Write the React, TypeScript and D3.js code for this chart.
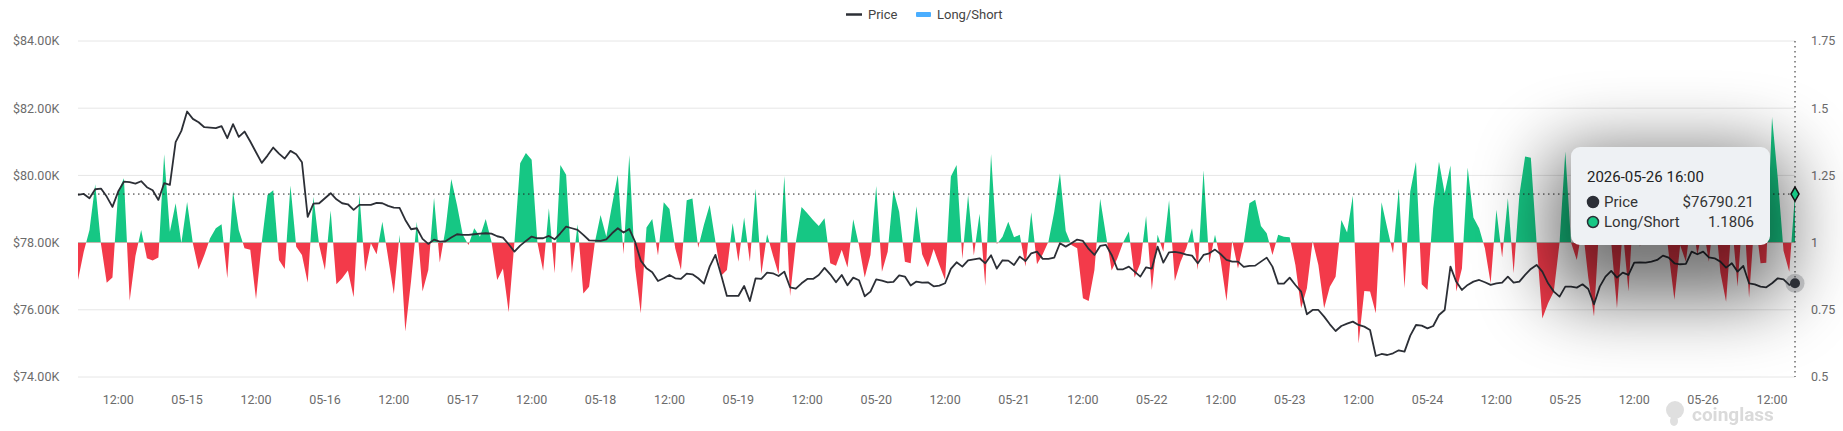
import { useEffect, useRef } from 'react'
import * as d3 from 'd3'

// hourly samples starting 2026-05-14 05:00
const startTime = new Date(2026, 4, 14, 5, 0, 0)

const price = [
  79419, 79449, 79320, 79588, 79608, 79370, 79062, 79519, 79816, 79797,
  79757, 79826, 79648, 79558, 79270, 79767, 79717, 80988, 81325, 81901,
  81683, 81583, 81434, 81424, 81405, 81464, 81107, 81524, 81147, 81305,
  81008, 80690, 80372, 80590, 80829, 80650, 80501, 80730, 80630, 80392,
  78764, 79161, 79171, 79320, 79469, 79290, 79171, 79141, 78973, 79122,
  79122, 79122, 79181, 79171, 79092, 79042, 79032, 78675, 78397, 78427,
  78109, 77960, 78089, 78030, 78040, 78149, 78248, 78228, 78228, 78248,
  78268, 78278, 78268, 78189, 78149, 77950, 77732, 77911, 78050, 78179,
  78129, 78129, 78199, 78099, 78278, 78476, 78427, 78377, 78228, 78069,
  78060, 78050, 78099, 78278, 78427, 78298, 78407, 78030, 77464, 77236,
  77117, 76858, 76938, 77037, 76938, 76918, 77077, 77057, 76938, 76779,
  77285, 77633, 77037, 76412, 76412, 76412, 76710, 76263, 76938, 76918,
  77107, 77087, 77007, 77136, 76670, 76630, 76789, 76918, 76918, 77037,
  77246, 77057, 76819, 77037, 76729, 76958, 76878, 76402, 76541, 76908,
  76868, 76819, 76829, 77027, 76988, 76720, 76839, 76809, 76819, 76700,
  76720, 76789, 77216, 77414, 77285, 77474, 77504, 77533, 77385, 77623,
  77226, 77474, 77464, 77335, 77583, 77454, 77682, 77732, 77514, 77514,
  77553, 77980, 77881, 77980, 78089, 78050, 77811, 77633, 77901, 77931,
  77633, 77206, 77206, 77285, 77136, 76988, 77265, 77226, 77881, 77404,
  77712, 77722, 77692, 77643, 77613, 77385, 77633, 77682, 77792, 77653,
  77484, 77434, 77434, 77275, 77305, 77315, 77434, 77553, 77285, 76779,
  76779, 76958, 76739, 76541, 75866, 75995, 75995, 75796, 75568, 75370,
  75519, 75588, 75648, 75548, 75499, 75400, 74625, 74685, 74655, 74705,
  74794, 74754, 75231, 75548, 75529, 75449, 75519, 75846, 75995, 77285,
  76839, 76591, 76740, 76839, 76888, 76819, 76740, 76789, 76809, 76988,
  76809, 76839, 77037, 77216, 77335, 77136, 76789, 76541, 76392, 76690,
  76690, 76660, 76759, 76620, 76164, 76690, 76988, 77156, 76958, 77107,
  77037, 77404, 77414, 77404, 77434, 77484, 77613, 77553, 77385, 77355,
  77365, 77732, 77653, 77732, 77563, 77533, 77434, 77256, 77385, 77136,
  77305, 76789, 76759, 76690, 76670, 76789, 76938, 76908, 76739, 76790.21,
]

const longShort = [
  0.861, 0.966, 1.047, 1.217, 0.995, 0.851, 0.870, 1.19, 1.239, 0.784,
  0.95, 1.047, 0.942, 0.933, 0.945, 1.329, 1.04, 1.146, 0.998, 1.151,
  0.998, 0.90, 0.954, 1.016, 1.053, 1.068, 0.867, 1.191, 1.047, 0.979,
  0.973, 0.789, 1.0, 1.177, 1.195, 0.935, 0.902, 1.212, 0.985, 0.954,
  0.851, 1.171, 0.99, 0.898, 1.119, 0.845, 0.867, 0.896, 0.797, 1.181,
  0.892, 0.998, 0.957, 1.078, 0.945, 0.809, 1.029, 0.669, 0.857, 1.078,
  0.818, 0.898, 1.167, 0.926, 1.05, 1.237, 1.14, 1.029, 0.991, 1.053,
  1.022, 1.088, 1.004, 0.861, 0.904, 0.741, 1.0, 1.295, 1.333, 1.308,
  1.0, 0.895, 1.128, 0.886, 1.289, 1.252, 0.886, 1.068, 0.811, 0.836,
  1.0, 1.103, 1.022, 1.14, 1.252, 0.957, 1.326, 0.91, 0.737, 1.056,
  1.088, 0.952, 1.15, 1.125, 0.979, 0.898, 1.158, 1.164, 0.981, 1.066,
  1.14, 1.004, 0.877, 0.898, 1.073, 0.929, 1.093, 0.929, 1.2, 0.883,
  1.031, 0.954, 0.882, 1.248, 0.801, 1.0, 1.132, 1.109, 1.084, 1.062,
  1.091, 0.923, 0.914, 0.973, 0.907, 1.087, 0.99, 0.87, 0.954, 1.211,
  0.892, 0.966, 1.195, 1.115, 0.929, 0.923, 1.135, 0.957, 0.908, 0.976,
  0.917, 0.861, 1.246, 1.289, 0.939, 1.177, 0.952, 1.107, 0.839, 1.33,
  0.994, 1.022, 1.078, 1.02, 1.029, 0.911, 1.113, 0.919, 0.957, 1.004,
  1.115, 1.258, 1.043, 0.991, 0.979, 0.793, 0.783, 0.898, 1.163, 1.029,
  0.896, 0.942, 1.0, 1.041, 0.87, 0.923, 1.099, 0.824, 1.029, 0.966,
  1.158, 0.857, 0.929, 0.979, 1.053, 0.898, 1.269, 0.923, 1.029, 0.932,
  0.783, 1.007, 0.904, 0.998, 1.146, 1.159, 1.062, 1.035, 0.954, 1.029,
  1.022, 1.02, 0.917, 0.756, 0.83, 1.006, 0.917, 0.756, 0.836, 0.873,
  1.084, 1.038, 1.174, 0.625, 0.82, 0.818, 0.737, 1.15, 1.053, 0.96,
  1.2, 0.83, 1.19, 1.301, 0.845, 0.824, 1.128, 1.301, 1.184, 1.287,
  0.818, 0.904, 1.279, 1.093, 1.053, 0.979, 0.849, 1.122, 0.945, 1.165,
  0.886, 1.177, 1.32, 1.316, 1.0, 0.718, 0.774, 0.818, 1.0, 1.339,
  1.0, 0.935, 1.06, 0.87, 0.725, 1.1, 1.12, 1.0, 0.756, 1.05,
  0.818, 1.18, 0.985, 1.1, 1.22, 1.08, 1.15, 0.96, 0.787, 0.99,
  0.929, 1.1, 0.954, 1.06, 0.929, 1.12, 0.89, 0.78, 1.08, 0.836,
  1.15, 0.795, 1.1, 0.923, 0.925, 1.467, 1.24, 0.97, 0.892, 1.1806,
]

const priceTicks = [74000, 76000, 78000, 80000, 82000, 84000]
const ratioTicks = [0.5, 0.75, 1, 1.25, 1.5, 1.75]

const GREEN = '#16c784'
const RED = '#f33a4a'
const LINE = '#2c2f36'

export default function App() {
  const svgRef = useRef<SVGSVGElement>(null)

  useEffect(() => {
    document.body.style.margin = '0'
    if (!svgRef.current) return

    const width = 1843
    const height = 431
    const left = 78
    const right = 1795
    const top = 41
    const bottom = 377

    const svg = d3.select(svgRef.current)
    svg.selectAll('*').remove()
    svg.attr('width', width).attr('height', height)

    const times = price.map((_, i) => d3.timeHour.offset(startTime, i))
    const endTime = times[times.length - 1]

    const x = d3.scaleTime().domain([startTime, endTime]).range([left, right])
    const yP = d3.scaleLinear().domain([74000, 84000]).range([bottom, top])
    const yR = d3.scaleLinear().domain([0.5, 1.75]).range([bottom, top])

    const defs = svg.append('defs')
    defs.append('clipPath').attr('id', 'above')
      .append('rect').attr('x', left).attr('y', 0)
      .attr('width', right - left).attr('height', yR(1))
    defs.append('clipPath').attr('id', 'below')
      .append('rect').attr('x', left).attr('y', yR(1))
      .attr('width', right - left).attr('height', height - yR(1))
    defs.append('filter').attr('id', 'tipBlur')
      .attr('filterUnits', 'userSpaceOnUse')
      .attr('x', 1300).attr('y', 0).attr('width', 543).attr('height', 431)
      .append('feGaussianBlur').attr('stdDeviation', 36)

    const font = 'Roboto, "Noto Sans", sans-serif'

    // grid + left axis
    const grid = svg.append('g')
    priceTicks.forEach(t => {
      grid.append('line')
        .attr('x1', left).attr('x2', right)
        .attr('y1', yP(t)).attr('y2', yP(t))
        .attr('stroke', '#e6e6e6').attr('stroke-width', 1)
      grid.append('text')
        .attr('x', 13).attr('y', yP(t)).attr('dy', '0.35em')
        .attr('font-family', font).attr('font-size', 12.5)
        .attr('fill', '#6b6b6b')
        .text('$' + (t / 1000).toFixed(2) + 'K')
    })

    // right axis
    ratioTicks.forEach(t => {
      grid.append('text')
        .attr('x', 1811).attr('y', yR(t)).attr('dy', '0.35em')
        .attr('font-family', font).attr('font-size', 12.5)
        .attr('fill', '#6b6b6b')
        .text(String(t))
    })

    // x axis labels
    const xTicks = x.ticks(d3.timeHour.every(12)!)
    const fmtDay = d3.timeFormat('%m-%d')
    const fmtHour = d3.timeFormat('%H:%M')
    xTicks.forEach(t => {
      grid.append('text')
        .attr('x', x(t)).attr('y', 404)
        .attr('text-anchor', 'middle')
        .attr('font-family', font).attr('font-size', 12.5)
        .attr('fill', '#6b6b6b')
        .text(t.getHours() === 0 ? fmtDay(t) : fmtHour(t))
    })

    // long/short area
    const ratioData = longShort.map((v, i) => ({ t: times[i], v }))
    const area = d3.area<{ t: Date; v: number }>()
      .x(d => x(d.t))
      .y0(yR(1))
      .y1(d => yR(d.v))
    svg.append('path').datum(ratioData)
      .attr('d', area).attr('fill', GREEN).attr('clip-path', 'url(#above)')
    svg.append('path').datum(ratioData)
      .attr('d', area).attr('fill', RED).attr('clip-path', 'url(#below)')

    // price line
    const priceData = price.map((v, i) => ({ t: times[i], v }))
    const line = d3.line<{ t: Date; v: number }>()
      .x(d => x(d.t))
      .y(d => yP(d.v))
    svg.append('path').datum(priceData)
      .attr('d', line).attr('fill', 'none')
      .attr('stroke', LINE).attr('stroke-width', 1.8)
      .attr('stroke-linejoin', 'round')

    // crosshair
    const last = longShort.length - 1
    const cx = x(endTime)
    const cy = yR(longShort[last])
    svg.append('line')
      .attr('x1', left).attr('x2', right).attr('y1', cy).attr('y2', cy)
      .attr('stroke', '#222').attr('stroke-width', 1).attr('stroke-dasharray', '1.5,3.5')
    svg.append('line')
      .attr('x1', cx).attr('x2', cx).attr('y1', top).attr('y2', bottom)
      .attr('stroke', '#222').attr('stroke-width', 1).attr('stroke-dasharray', '1.5,3.5')

    // tooltip with its soft shadow
    const tip = svg.append('g')
    tip.append('rect')
      .attr('x', 1548).attr('y', 150).attr('width', 240).attr('height', 150)
      .attr('rx', 30).attr('fill', '#000').attr('opacity', 0.55)
      .attr('filter', 'url(#tipBlur)')
    tip.append('rect')
      .attr('x', 1571).attr('y', 147).attr('width', 199).attr('height', 98)
      .attr('rx', 9).attr('fill', '#eef1f4')
    tip.append('text')
      .attr('x', 1587).attr('y', 182)
      .attr('font-family', font).attr('font-size', 15).attr('fill', '#222')
      .text(d3.timeFormat('%Y-%m-%d %H:%M')(endTime))
    const rows = [
      { label: 'Price', value: '$' + price[last].toFixed(2), color: LINE },
      { label: 'Long/Short', value: longShort[last].toFixed(4), color: GREEN },
    ]
    rows.forEach((r, i) => {
      const ry = 202 + i * 20
      tip.append('circle')
        .attr('cx', 1593).attr('cy', ry).attr('r', 5.5)
        .attr('fill', r.color).attr('stroke', '#2c2f36').attr('stroke-width', 1.5)
      tip.append('text')
        .attr('x', 1604).attr('y', ry).attr('dy', '0.36em')
        .attr('font-family', font).attr('font-size', 15).attr('fill', '#333')
        .text(r.label)
      tip.append('text')
        .attr('x', 1754).attr('y', ry).attr('dy', '0.36em')
        .attr('text-anchor', 'end')
        .attr('font-family', font).attr('font-size', 15).attr('fill', '#333')
        .text(r.value)
    })

    // markers
    const py = yP(price[last])
    svg.append('circle').attr('cx', cx).attr('cy', py).attr('r', 9.5)
      .attr('fill', 'rgba(60,64,70,0.25)')
    svg.append('circle').attr('cx', cx).attr('cy', py).attr('r', 5)
      .attr('fill', LINE)
    svg.append('path')
      .attr('d', d3.symbol(d3.symbolDiamond, 56)())
      .attr('transform', `translate(${cx},${cy})`)
      .attr('fill', GREEN).attr('stroke', '#111').attr('stroke-width', 1.5)

    // legend
    const lg = svg.append('g')
    lg.append('line').attr('x1', 846).attr('x2', 862).attr('y1', 14.5).attr('y2', 14.5)
      .attr('stroke', LINE).attr('stroke-width', 2.5)
    lg.append('text').attr('x', 868).attr('y', 14.5).attr('dy', '0.35em')
      .attr('font-family', font).attr('font-size', 13).attr('fill', '#444')
      .text('Price')
    lg.append('rect').attr('x', 916).attr('y', 12).attr('width', 15).attr('height', 5)
      .attr('rx', 1).attr('fill', '#4aaeff')
    lg.append('text').attr('x', 937).attr('y', 14.5).attr('dy', '0.35em')
      .attr('font-family', font).attr('font-size', 13).attr('fill', '#444')
      .text('Long/Short')

    // watermark
    const wm = svg.append('g').attr('opacity', 0.9)
    wm.append('ellipse').attr('cx', 1675).attr('cy', 410).attr('rx', 9).attr('ry', 9)
      .attr('fill', '#dcdcdc')
    wm.append('ellipse').attr('cx', 1674).attr('cy', 421).attr('rx', 4).attr('ry', 5)
      .attr('fill', '#dcdcdc')
    wm.append('text').attr('x', 1692).attr('y', 421)
      .attr('font-family', font).attr('font-size', 19).attr('font-weight', 700)
      .attr('fill', '#d6d6d6')
      .text('coinglass')
  }, [])

  return <svg ref={svgRef} style={{ display: 'block' }} />
}
